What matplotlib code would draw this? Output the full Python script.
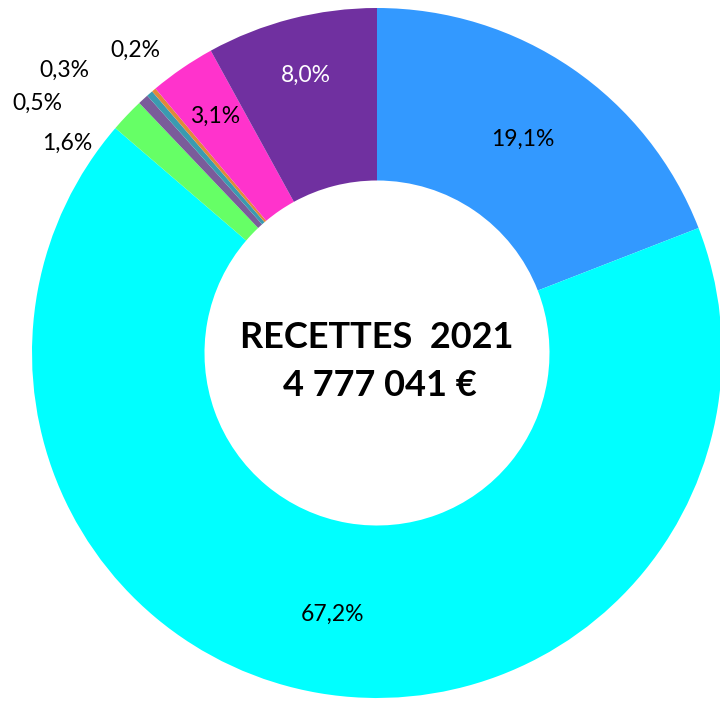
import numpy as np
import matplotlib.pyplot as plt

# Répartition des recettes 2021 (en %)
parts = [19.1, 67.2, 1.6, 0.5, 0.3, 0.2, 3.1, 8.0]
couleurs = ['#3399FF', '#00FFFF', '#66FF66', '#7A5C9A', '#3A9BB0', '#E0893A', '#FF33CC', '#7030A0']
couleurs_texte = ['black', 'black', 'black', 'black', 'black', 'black', 'black', 'white']
titre = 'RECETTES  2021'
total = '4 777 041 €'

# rayon relatif des étiquettes dans l'anneau (None = étiquette à l'extérieur)
rayon_etiq = [0.75, 0.77, None, None, None, None, 0.83, 0.83]
# positions des petites étiquettes extérieures (en rayons)
pos_ext = {2: (-0.899, 0.609), 3: (-0.983, 0.725), 4: (-0.907, 0.820), 5: (-0.701, 0.878)}

W, H = 720, 707
R = 345
cx, cy = 377, H - 353

fig = plt.figure(figsize=(W / 100, H / 100), dpi=100)
ax = fig.add_axes([0, 0, 1, 1])

wedges, _ = ax.pie(parts, colors=couleurs, startangle=90, counterclock=False,
                   radius=R, center=(cx, cy), frame=True,
                   wedgeprops=dict(width=R * 0.5, linewidth=0))
ax.set_xlim(0, W)
ax.set_ylim(0, H)
ax.axis('off')

police = 'Lato'
for i, (w, p) in enumerate(zip(wedges, parts)):
    txt = f'{p:.1f}%'.replace('.', ',')
    if rayon_etiq[i] is not None:
        a = np.deg2rad((w.theta1 + w.theta2) / 2)
        x = cx + rayon_etiq[i] * R * np.cos(a)
        y = cy + rayon_etiq[i] * R * np.sin(a)
    else:
        x = cx + pos_ext[i][0] * R
        y = cy + pos_ext[i][1] * R
    ax.text(x, y, txt, ha='center', va='center', fontsize=16.5,
            color=couleurs_texte[i], family=police)

ax.text(cx, cy + 16, titre, ha='center', va='center', fontsize=26,
        fontweight='bold', family=police)
ax.text(cx + 3, cy - 32, total, ha='center', va='center', fontsize=26,
        fontweight='bold', family=police)

fig.savefig('out.png', dpi=100)
